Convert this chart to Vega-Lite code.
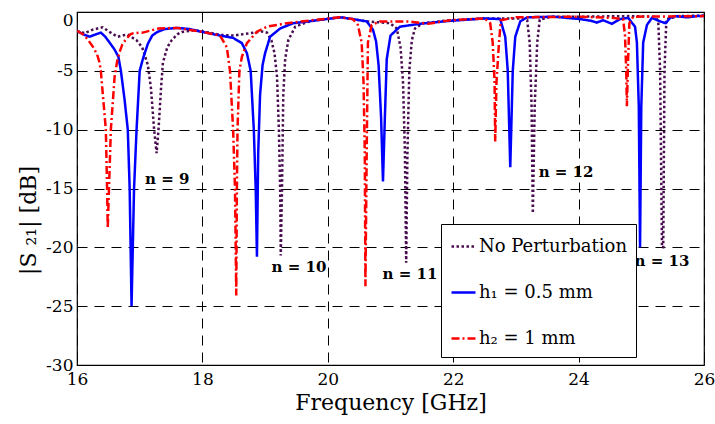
{
  "$schema": "https://vega.github.io/schema/vega-lite/v6.json",
  "width": 627,
  "height": 353,
  "autosize": {"type": "none"},
  "padding": {"left": 77, "top": 12, "right": 11, "bottom": 59},
  "background": "white",
  "config": {
    "view": {"stroke": "black", "strokeWidth": 1.2},
    "font": "DejaVu Serif",
    "axis": {
      "grid": true,
      "gridColor": "black",
      "gridDash": [10, 7],
      "gridWidth": 1,
      "gridOpacity": 1,
      "domain": false,
      "ticks": false,
      "labelFont": "DejaVu Serif",
      "labelFontSize": 17,
      "labelColor": "black",
      "titleFont": "DejaVu Serif",
      "titleFontSize": 22,
      "titleFontWeight": "normal",
      "titleColor": "black"
    }
  },
  "layer": [
    {
      "data": {
        "values": [
          {"s": "No Perturbation", "f": 16.00, "d": -1.6},
          {"s": "No Perturbation", "f": 16.12, "d": -1.8},
          {"s": "No Perturbation", "f": 16.25, "d": -1.5},
          {"s": "No Perturbation", "f": 16.41, "d": -1.3},
          {"s": "No Perturbation", "f": 16.55, "d": -1.8},
          {"s": "No Perturbation", "f": 16.65, "d": -2.1},
          {"s": "No Perturbation", "f": 16.80, "d": -1.9},
          {"s": "No Perturbation", "f": 16.95, "d": -2.4},
          {"s": "No Perturbation", "f": 17.04, "d": -3.0},
          {"s": "No Perturbation", "f": 17.13, "d": -4.5},
          {"s": "No Perturbation", "f": 17.18, "d": -6.5},
          {"s": "No Perturbation", "f": 17.23, "d": -10.0},
          {"s": "No Perturbation", "f": 17.27, "d": -12.0},
          {"s": "No Perturbation", "f": 17.30, "d": -10.0},
          {"s": "No Perturbation", "f": 17.34, "d": -6.5},
          {"s": "No Perturbation", "f": 17.37, "d": -4.3},
          {"s": "No Perturbation", "f": 17.44, "d": -3.0},
          {"s": "No Perturbation", "f": 17.51, "d": -2.4},
          {"s": "No Perturbation", "f": 17.60, "d": -1.9},
          {"s": "No Perturbation", "f": 17.67, "d": -1.7},
          {"s": "No Perturbation", "f": 17.88, "d": -1.55},
          {"s": "No Perturbation", "f": 18.10, "d": -1.75},
          {"s": "No Perturbation", "f": 18.30, "d": -1.95},
          {"s": "No Perturbation", "f": 18.50, "d": -2.0},
          {"s": "No Perturbation", "f": 18.76, "d": -1.8},
          {"s": "No Perturbation", "f": 18.95, "d": -1.65},
          {"s": "No Perturbation", "f": 19.03, "d": -1.75},
          {"s": "No Perturbation", "f": 19.10, "d": -2.4},
          {"s": "No Perturbation", "f": 19.15, "d": -3.5},
          {"s": "No Perturbation", "f": 19.19, "d": -5.5},
          {"s": "No Perturbation", "f": 19.22, "d": -10.0},
          {"s": "No Perturbation", "f": 19.24, "d": -15.0},
          {"s": "No Perturbation", "f": 19.25, "d": -20.7},
          {"s": "No Perturbation", "f": 19.27, "d": -15.0},
          {"s": "No Perturbation", "f": 19.29, "d": -7.0},
          {"s": "No Perturbation", "f": 19.32, "d": -4.0},
          {"s": "No Perturbation", "f": 19.37, "d": -2.4},
          {"s": "No Perturbation", "f": 19.48, "d": -1.25},
          {"s": "No Perturbation", "f": 19.67, "d": -0.85},
          {"s": "No Perturbation", "f": 19.88, "d": -0.65},
          {"s": "No Perturbation", "f": 20.20, "d": -0.45},
          {"s": "No Perturbation", "f": 20.62, "d": -0.8},
          {"s": "No Perturbation", "f": 20.99, "d": -0.95},
          {"s": "No Perturbation", "f": 21.10, "d": -1.4},
          {"s": "No Perturbation", "f": 21.16, "d": -3.0},
          {"s": "No Perturbation", "f": 21.20, "d": -6.0},
          {"s": "No Perturbation", "f": 21.23, "d": -12.0},
          {"s": "No Perturbation", "f": 21.25, "d": -21.3},
          {"s": "No Perturbation", "f": 21.27, "d": -12.0},
          {"s": "No Perturbation", "f": 21.30, "d": -5.0},
          {"s": "No Perturbation", "f": 21.34, "d": -2.4},
          {"s": "No Perturbation", "f": 21.39, "d": -1.4},
          {"s": "No Perturbation", "f": 21.52, "d": -0.95},
          {"s": "No Perturbation", "f": 21.95, "d": -0.7},
          {"s": "No Perturbation", "f": 22.50, "d": -0.55},
          {"s": "No Perturbation", "f": 23.10, "d": -0.55},
          {"s": "No Perturbation", "f": 23.18, "d": -0.7},
          {"s": "No Perturbation", "f": 23.22, "d": -2.6},
          {"s": "No Perturbation", "f": 23.25, "d": -8.0},
          {"s": "No Perturbation", "f": 23.27, "d": -17.1},
          {"s": "No Perturbation", "f": 23.30, "d": -8.0},
          {"s": "No Perturbation", "f": 23.34, "d": -2.6},
          {"s": "No Perturbation", "f": 23.38, "d": -0.65},
          {"s": "No Perturbation", "f": 23.57, "d": -0.4},
          {"s": "No Perturbation", "f": 24.00, "d": -0.4},
          {"s": "No Perturbation", "f": 24.80, "d": -0.35},
          {"s": "No Perturbation", "f": 25.20, "d": -0.4},
          {"s": "No Perturbation", "f": 25.27, "d": -0.7},
          {"s": "No Perturbation", "f": 25.30, "d": -5.0},
          {"s": "No Perturbation", "f": 25.33, "d": -20.0},
          {"s": "No Perturbation", "f": 25.35, "d": -20.0},
          {"s": "No Perturbation", "f": 25.37, "d": -5.0},
          {"s": "No Perturbation", "f": 25.40, "d": -0.6},
          {"s": "No Perturbation", "f": 25.60, "d": -0.35},
          {"s": "No Perturbation", "f": 26.00, "d": -0.3},

          {"s": "h₁ = 0.5 mm", "f": 16.00, "d": -1.6},
          {"s": "h₁ = 0.5 mm", "f": 16.10, "d": -1.9},
          {"s": "h₁ = 0.5 mm", "f": 16.20, "d": -2.1},
          {"s": "h₁ = 0.5 mm", "f": 16.30, "d": -1.9},
          {"s": "h₁ = 0.5 mm", "f": 16.38, "d": -1.75},
          {"s": "h₁ = 0.5 mm", "f": 16.45, "d": -2.1},
          {"s": "h₁ = 0.5 mm", "f": 16.52, "d": -2.6},
          {"s": "h₁ = 0.5 mm", "f": 16.60, "d": -3.2},
          {"s": "h₁ = 0.5 mm", "f": 16.66, "d": -3.8},
          {"s": "h₁ = 0.5 mm", "f": 16.70, "d": -5.0},
          {"s": "h₁ = 0.5 mm", "f": 16.76, "d": -7.5},
          {"s": "h₁ = 0.5 mm", "f": 16.81, "d": -10.0},
          {"s": "h₁ = 0.5 mm", "f": 16.84, "d": -15.0},
          {"s": "h₁ = 0.5 mm", "f": 16.87, "d": -25.0},
          {"s": "h₁ = 0.5 mm", "f": 16.89, "d": -20.0},
          {"s": "h₁ = 0.5 mm", "f": 16.91, "d": -15.0},
          {"s": "h₁ = 0.5 mm", "f": 16.95, "d": -10.0},
          {"s": "h₁ = 0.5 mm", "f": 17.00, "d": -5.0},
          {"s": "h₁ = 0.5 mm", "f": 17.05, "d": -4.0},
          {"s": "h₁ = 0.5 mm", "f": 17.13, "d": -2.7},
          {"s": "h₁ = 0.5 mm", "f": 17.20, "d": -2.0},
          {"s": "h₁ = 0.5 mm", "f": 17.28, "d": -1.7},
          {"s": "h₁ = 0.5 mm", "f": 17.40, "d": -1.45},
          {"s": "h₁ = 0.5 mm", "f": 17.60, "d": -1.35},
          {"s": "h₁ = 0.5 mm", "f": 17.80, "d": -1.45},
          {"s": "h₁ = 0.5 mm", "f": 17.96, "d": -1.65},
          {"s": "h₁ = 0.5 mm", "f": 18.28, "d": -2.0},
          {"s": "h₁ = 0.5 mm", "f": 18.49, "d": -2.2},
          {"s": "h₁ = 0.5 mm", "f": 18.63, "d": -2.65},
          {"s": "h₁ = 0.5 mm", "f": 18.71, "d": -3.5},
          {"s": "h₁ = 0.5 mm", "f": 18.77, "d": -5.0},
          {"s": "h₁ = 0.5 mm", "f": 18.82, "d": -10.0},
          {"s": "h₁ = 0.5 mm", "f": 18.85, "d": -15.0},
          {"s": "h₁ = 0.5 mm", "f": 18.87, "d": -20.8},
          {"s": "h₁ = 0.5 mm", "f": 18.89, "d": -12.0},
          {"s": "h₁ = 0.5 mm", "f": 18.92, "d": -7.0},
          {"s": "h₁ = 0.5 mm", "f": 18.96, "d": -4.5},
          {"s": "h₁ = 0.5 mm", "f": 19.00, "d": -3.5},
          {"s": "h₁ = 0.5 mm", "f": 19.08, "d": -2.1},
          {"s": "h₁ = 0.5 mm", "f": 19.24, "d": -1.4},
          {"s": "h₁ = 0.5 mm", "f": 19.45, "d": -0.95},
          {"s": "h₁ = 0.5 mm", "f": 19.83, "d": -0.7},
          {"s": "h₁ = 0.5 mm", "f": 20.20, "d": -0.45},
          {"s": "h₁ = 0.5 mm", "f": 20.40, "d": -0.6},
          {"s": "h₁ = 0.5 mm", "f": 20.62, "d": -0.8},
          {"s": "h₁ = 0.5 mm", "f": 20.72, "d": -1.5},
          {"s": "h₁ = 0.5 mm", "f": 20.77, "d": -2.5},
          {"s": "h₁ = 0.5 mm", "f": 20.81, "d": -4.5},
          {"s": "h₁ = 0.5 mm", "f": 20.85, "d": -9.0},
          {"s": "h₁ = 0.5 mm", "f": 20.88, "d": -14.4},
          {"s": "h₁ = 0.5 mm", "f": 20.91, "d": -9.0},
          {"s": "h₁ = 0.5 mm", "f": 20.94, "d": -4.0},
          {"s": "h₁ = 0.5 mm", "f": 21.00, "d": -2.0},
          {"s": "h₁ = 0.5 mm", "f": 21.15, "d": -1.25},
          {"s": "h₁ = 0.5 mm", "f": 21.47, "d": -1.0},
          {"s": "h₁ = 0.5 mm", "f": 21.95, "d": -0.75},
          {"s": "h₁ = 0.5 mm", "f": 22.50, "d": -0.55},
          {"s": "h₁ = 0.5 mm", "f": 22.75, "d": -0.6},
          {"s": "h₁ = 0.5 mm", "f": 22.83, "d": -2.1},
          {"s": "h₁ = 0.5 mm", "f": 22.87, "d": -5.0},
          {"s": "h₁ = 0.5 mm", "f": 22.91, "d": -13.2},
          {"s": "h₁ = 0.5 mm", "f": 22.95, "d": -5.0},
          {"s": "h₁ = 0.5 mm", "f": 22.99, "d": -2.1},
          {"s": "h₁ = 0.5 mm", "f": 23.07, "d": -0.8},
          {"s": "h₁ = 0.5 mm", "f": 23.18, "d": -0.45},
          {"s": "h₁ = 0.5 mm", "f": 23.60, "d": -0.4},
          {"s": "h₁ = 0.5 mm", "f": 24.02, "d": -0.6},
          {"s": "h₁ = 0.5 mm", "f": 24.20, "d": -0.75},
          {"s": "h₁ = 0.5 mm", "f": 24.29, "d": -0.9},
          {"s": "h₁ = 0.5 mm", "f": 24.39, "d": -0.7},
          {"s": "h₁ = 0.5 mm", "f": 24.53, "d": -1.0},
          {"s": "h₁ = 0.5 mm", "f": 24.66, "d": -0.6},
          {"s": "h₁ = 0.5 mm", "f": 24.79, "d": -0.5},
          {"s": "h₁ = 0.5 mm", "f": 24.90, "d": -1.25},
          {"s": "h₁ = 0.5 mm", "f": 24.93, "d": -2.6},
          {"s": "h₁ = 0.5 mm", "f": 24.96, "d": -8.0},
          {"s": "h₁ = 0.5 mm", "f": 24.98, "d": -20.0},
          {"s": "h₁ = 0.5 mm", "f": 25.00, "d": -8.0},
          {"s": "h₁ = 0.5 mm", "f": 25.03, "d": -2.6},
          {"s": "h₁ = 0.5 mm", "f": 25.09, "d": -1.1},
          {"s": "h₁ = 0.5 mm", "f": 25.17, "d": -0.5},
          {"s": "h₁ = 0.5 mm", "f": 25.30, "d": -0.8},
          {"s": "h₁ = 0.5 mm", "f": 25.39, "d": -0.95},
          {"s": "h₁ = 0.5 mm", "f": 25.46, "d": -0.5},
          {"s": "h₁ = 0.5 mm", "f": 25.54, "d": -0.35},
          {"s": "h₁ = 0.5 mm", "f": 25.73, "d": -0.45},
          {"s": "h₁ = 0.5 mm", "f": 25.89, "d": -0.35},
          {"s": "h₁ = 0.5 mm", "f": 26.00, "d": -0.35},

          {"s": "h₂ = 1 mm", "f": 16.00, "d": -1.6},
          {"s": "h₂ = 1 mm", "f": 16.10, "d": -1.9},
          {"s": "h₂ = 1 mm", "f": 16.18, "d": -2.4},
          {"s": "h₂ = 1 mm", "f": 16.26, "d": -3.0},
          {"s": "h₂ = 1 mm", "f": 16.32, "d": -3.6},
          {"s": "h₂ = 1 mm", "f": 16.36, "d": -4.3},
          {"s": "h₂ = 1 mm", "f": 16.38, "d": -5.0},
          {"s": "h₂ = 1 mm", "f": 16.46, "d": -10.0},
          {"s": "h₂ = 1 mm", "f": 16.48, "d": -15.0},
          {"s": "h₂ = 1 mm", "f": 16.49, "d": -18.4},
          {"s": "h₂ = 1 mm", "f": 16.51, "d": -15.0},
          {"s": "h₂ = 1 mm", "f": 16.54, "d": -10.0},
          {"s": "h₂ = 1 mm", "f": 16.60, "d": -5.5},
          {"s": "h₂ = 1 mm", "f": 16.64, "d": -4.2},
          {"s": "h₂ = 1 mm", "f": 16.68, "d": -3.4},
          {"s": "h₂ = 1 mm", "f": 16.72, "d": -2.8},
          {"s": "h₂ = 1 mm", "f": 16.77, "d": -2.4},
          {"s": "h₂ = 1 mm", "f": 16.85, "d": -1.9},
          {"s": "h₂ = 1 mm", "f": 16.90, "d": -1.8},
          {"s": "h₂ = 1 mm", "f": 17.05, "d": -1.75},
          {"s": "h₂ = 1 mm", "f": 17.30, "d": -1.4},
          {"s": "h₂ = 1 mm", "f": 17.60, "d": -1.35},
          {"s": "h₂ = 1 mm", "f": 17.96, "d": -1.65},
          {"s": "h₂ = 1 mm", "f": 18.28, "d": -2.0},
          {"s": "h₂ = 1 mm", "f": 18.39, "d": -3.0},
          {"s": "h₂ = 1 mm", "f": 18.44, "d": -5.0},
          {"s": "h₂ = 1 mm", "f": 18.49, "d": -10.0},
          {"s": "h₂ = 1 mm", "f": 18.52, "d": -15.0},
          {"s": "h₂ = 1 mm", "f": 18.54, "d": -24.1},
          {"s": "h₂ = 1 mm", "f": 18.55, "d": -15.0},
          {"s": "h₂ = 1 mm", "f": 18.56, "d": -10.0},
          {"s": "h₂ = 1 mm", "f": 18.59, "d": -5.0},
          {"s": "h₂ = 1 mm", "f": 18.63, "d": -3.8},
          {"s": "h₂ = 1 mm", "f": 18.71, "d": -2.65},
          {"s": "h₂ = 1 mm", "f": 18.87, "d": -1.67},
          {"s": "h₂ = 1 mm", "f": 19.03, "d": -1.25},
          {"s": "h₂ = 1 mm", "f": 19.35, "d": -0.95},
          {"s": "h₂ = 1 mm", "f": 19.83, "d": -0.65},
          {"s": "h₂ = 1 mm", "f": 20.20, "d": -0.45},
          {"s": "h₂ = 1 mm", "f": 20.40, "d": -0.6},
          {"s": "h₂ = 1 mm", "f": 20.48, "d": -1.1},
          {"s": "h₂ = 1 mm", "f": 20.54, "d": -2.6},
          {"s": "h₂ = 1 mm", "f": 20.57, "d": -6.0},
          {"s": "h₂ = 1 mm", "f": 20.59, "d": -12.0},
          {"s": "h₂ = 1 mm", "f": 20.60, "d": -23.3},
          {"s": "h₂ = 1 mm", "f": 20.62, "d": -12.0},
          {"s": "h₂ = 1 mm", "f": 20.64, "d": -2.6},
          {"s": "h₂ = 1 mm", "f": 20.70, "d": -1.1},
          {"s": "h₂ = 1 mm", "f": 20.83, "d": -0.8},
          {"s": "h₂ = 1 mm", "f": 21.30, "d": -0.8},
          {"s": "h₂ = 1 mm", "f": 21.60, "d": -1.0},
          {"s": "h₂ = 1 mm", "f": 21.95, "d": -0.7},
          {"s": "h₂ = 1 mm", "f": 22.50, "d": -0.55},
          {"s": "h₂ = 1 mm", "f": 22.59, "d": -0.95},
          {"s": "h₂ = 1 mm", "f": 22.63, "d": -2.6},
          {"s": "h₂ = 1 mm", "f": 22.66, "d": -6.0},
          {"s": "h₂ = 1 mm", "f": 22.67, "d": -11.0},
          {"s": "h₂ = 1 mm", "f": 22.69, "d": -6.0},
          {"s": "h₂ = 1 mm", "f": 22.73, "d": -2.6},
          {"s": "h₂ = 1 mm", "f": 22.76, "d": -0.7},
          {"s": "h₂ = 1 mm", "f": 23.00, "d": -0.45},
          {"s": "h₂ = 1 mm", "f": 24.00, "d": -0.4},
          {"s": "h₂ = 1 mm", "f": 24.55, "d": -0.5},
          {"s": "h₂ = 1 mm", "f": 24.71, "d": -0.6},
          {"s": "h₂ = 1 mm", "f": 24.74, "d": -2.0},
          {"s": "h₂ = 1 mm", "f": 24.76, "d": -5.0},
          {"s": "h₂ = 1 mm", "f": 24.77, "d": -8.0},
          {"s": "h₂ = 1 mm", "f": 24.79, "d": -4.0},
          {"s": "h₂ = 1 mm", "f": 24.81, "d": -0.95},
          {"s": "h₂ = 1 mm", "f": 24.87, "d": -0.4},
          {"s": "h₂ = 1 mm", "f": 26.00, "d": -0.35}
        ]
      },
      "mark": {"type": "line", "strokeWidth": 2.5, "clip": true},
      "encoding": {
        "x": {
          "field": "f", "type": "quantitative",
          "scale": {"domain": [16, 26], "nice": false, "zero": false},
          "axis": {"values": [16, 18, 20, 22, 24, 26], "format": "d", "title": "Frequency [GHz]", "labelPadding": 6, "titlePadding": 5, "labelFlush": false}
        },
        "y": {
          "field": "d", "type": "quantitative",
          "scale": {"domain": [-30, 0], "nice": false, "zero": false},
          "axis": {
            "values": [-30, -25, -20, -15, -10, -5, 0],
            "labelExpr": "'' + datum.value",
            "labelPadding": 4,
            "labelBaseline": {"condition": {"test": "datum.value == 0", "value": "top"}, "value": "middle"},
            "title": "|S ₂₁| [dB]",
            "titleX": -37,
            "titleY": 208
          }
        },
        "color": {
          "field": "s", "type": "nominal",
          "scale": {"domain": ["No Perturbation", "h₁ = 0.5 mm", "h₂ = 1 mm"], "range": ["#4a0c50", "#0000ff", "#ff0000"]},
          "legend": {
            "orient": "none", "legendX": 364, "legendY": 212, "title": null,
            "symbolType": "stroke", "symbolSize": 576, "symbolStrokeWidth": 2.5,
            "labelFont": "DejaVu Serif", "labelFontSize": 18, "labelColor": "black", "labelLimit": 300,
            "rowPadding": 23, "padding": 9, "labelOffset": 2,
            "strokeColor": "black", "fillColor": "white"
          }
        },
        "strokeDash": {
          "field": "s", "type": "nominal",
          "scale": {"domain": ["No Perturbation", "h₁ = 0.5 mm", "h₂ = 1 mm"], "range": [[2.5, 2.5], [1, 0], [8, 3, 2, 3]]}
        }
      }
    },
    {
      "data": {
        "values": [
          {"t": "n = 9", "f": 17.44, "d": -14.2},
          {"t": "n = 10", "f": 19.54, "d": -21.7},
          {"t": "n = 11", "f": 21.31, "d": -22.3},
          {"t": "n = 12", "f": 23.80, "d": -13.6},
          {"t": "n = 13", "f": 25.33, "d": -21.2}
        ]
      },
      "mark": {"type": "text", "font": "DejaVu Serif", "fontWeight": "bold", "fontSize": 15, "color": "black"},
      "encoding": {
        "x": {"field": "f", "type": "quantitative"},
        "y": {"field": "d", "type": "quantitative"},
        "text": {"field": "t"}
      }
    }
  ]
}
